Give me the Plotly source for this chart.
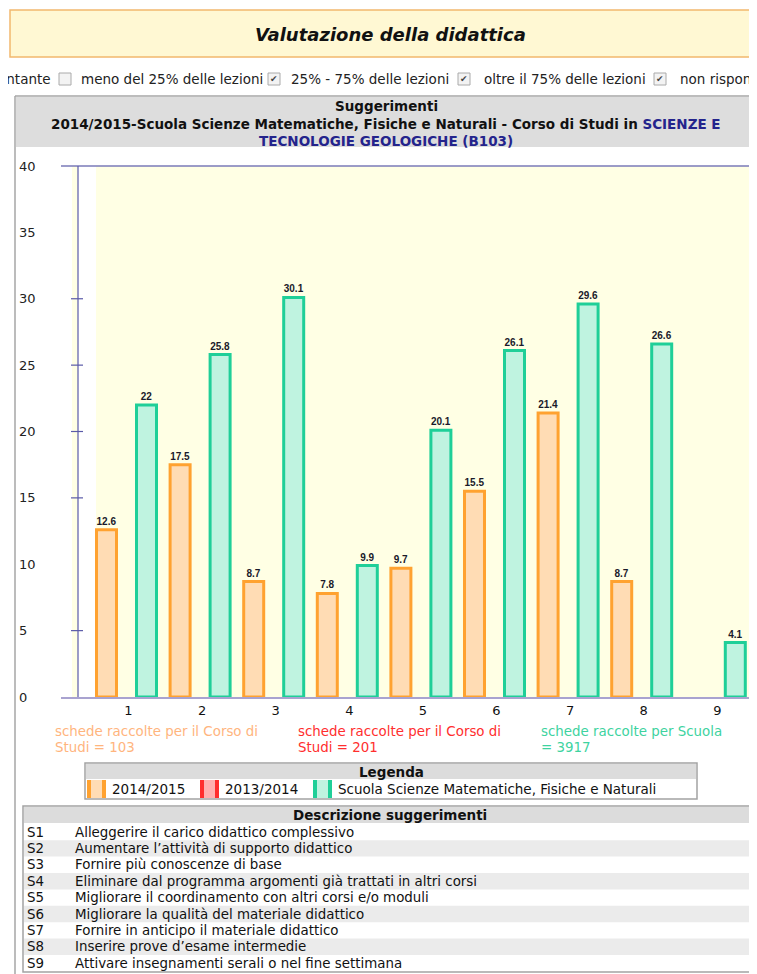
import plotly.graph_objects as go

OFF = 8                      # browser body margin
W, H = 757, 974

# ---------------- data ----------------
categories = ["1", "2", "3", "4", "5", "6", "7", "8", "9"]
values_1415 = [12.6, 17.5, 8.7, 7.8, 9.7, 15.5, 21.4, 8.7, None]
values_scuola = [22.0, 25.8, 30.1, 9.9, 20.1, 26.1, 29.6, 26.6, 4.1]
series_names = ["2014/2015", "2013/2014", "Scuola Scienze Matematiche, Fisiche e Naturali"]
y_ticks = [0, 5, 10, 15, 20, 25, 30, 35, 40]
axis_marks = [5, 15, 20, 25, 30]
counts_text = [["schede raccolte per il Corso di", "Studi = 103"],
               ["schede raccolte per il Corso di", "Studi = 201"],
               ["schede raccolte per Scuola", "= 3917"]]
codes = ["S1", "S2", "S3", "S4", "S5", "S6", "S7", "S8", "S9"]
descriptions = [
    "Alleggerire il carico didattico complessivo",
    "Aumentare l\u2019attivit\u00e0 di supporto didattico",
    "Fornire pi\u00f9 conoscenze di base",
    "Eliminare dal programma argomenti gi\u00e0 trattati in altri corsi",
    "Migliorare il coordinamento con altri corsi e/o moduli",
    "Migliorare la qualit\u00e0 del materiale didattico",
    "Fornire in anticipo il materiale didattico",
    "Inserire prove d\u2019esame intermedie",
    "Attivare insegnamenti serali o nel fine settimana",
]
filter_labels = ["meno del 25% delle lezioni", "25% - 75% delle lezioni",
                 "oltre il 75% delle lezioni", "non rispond"]
filter_checked = [False, True, True, True]

FONT = "DejaVu Sans"
ORANGE, ORANGE_L = "#ffa230", "#ffdcb4"
RED, RED_L = "#ff2e2e", "#ffb0b0"
TEAL, TEAL_L = "#1fcf98", "#bff3e0"


def X(p):
    return (p - OFF) / W


def Y(p):
    return 1 - (p - OFF) / H


def fmt(v):
    return "" if v is None else f"{v:g}"


shapes = []
annotations = []


def rect(x0, y0, x1, y1, fill=None, line=None, lw=1):
    shapes.append(dict(type="rect", xref="paper", yref="paper",
                       x0=X(x0), x1=X(x1), y0=Y(y1), y1=Y(y0),
                       fillcolor=fill or "rgba(0,0,0,0)",
                       line=dict(color=line or "rgba(0,0,0,0)", width=lw if line else 0),
                       layer="below"))


def hline(x0, x1, y, color, lw=1):
    shapes.append(dict(type="line", xref="paper", yref="paper",
                       x0=X(x0), x1=X(x1), y0=Y(y), y1=Y(y),
                       line=dict(color=color, width=lw)))


def vline(x, y0, y1, color, lw=1):
    shapes.append(dict(type="line", xref="paper", yref="paper",
                       x0=X(x), x1=X(x), y0=Y(y0), y1=Y(y1),
                       line=dict(color=color, width=lw)))


def text(x, y, s, size=13.5, color="#111", anchor="left", bold=False, italic=False, family=FONT):
    if bold:
        s = f"<b>{s}</b>"
    if italic:
        s = f"<i>{s}</i>"
    annotations.append(dict(x=X(x), y=Y(y), xref="paper", yref="paper", text=s,
                            showarrow=False, xanchor=anchor, yanchor="middle",
                            font=dict(family=family, size=size, color=color), borderpad=0))


# ---------------- page chrome ----------------
# title box
rect(10, 10, 790, 57, fill="#fff8d3", line="#f2b86e", lw=1.5)
text(390, 35, "Valutazione della didattica", size=18, anchor="center", bold=True, italic=True)

# filter line
text(52, 79, "entante", size=13.5, color="#222", anchor="right")
box_x = [59, 268, 458, 654]
text_x = [80, 290, 483, 679]
for bx, tx, lab, chk in zip(box_x, text_x, filter_labels, filter_checked):
    rect(bx, 73, bx + 12, 85, fill="#f3f3f3", line="#aaaaaa", lw=1)
    if chk:
        text(bx + 6, 79, "\u2714", size=9, color="#444", anchor="center")
    text(tx, 79, lab, size=13.5, color="#222")

# chart panel
vline(15, 96, 990, "#a6a6a6", 1.5)
hline(15, 770, 96, "#a6a6a6", 1.5)
rect(16, 97, 770, 147, fill="#dddddd")
text(386, 106, "Suggerimenti", size=13.5, anchor="center", bold=True)
text(386, 124, "2014/2015-Scuola Scienze Matematiche, Fisiche e Naturali - Corso di Studi in "
     "<span style='color:#24248c'>SCIENZE E</span>", size=13.5, anchor="center", bold=True)
text(386, 141, "<span style='color:#24248c'>TECNOLOGIE GEOLOGICHE (B103)</span>",
     size=13.5, anchor="center", bold=True)

# plot background
rect(72, 166, 78, 697, fill="#ffffe4")
rect(96, 166, 770, 697, fill="#ffffe4")

# axis lines
hline(61, 770, 166, "#7a7ab8", 1.5)
hline(61, 770, 698, "#8c84c0", 1.5)
shapes.append(dict(type="line", xref="paper", yref="y", x0=X(78), x1=X(78), y0=0, y1=40,
                   line=dict(color="#5a5aa8", width=1.2)))
for v in axis_marks:
    shapes.append(dict(type="line", xref="paper", yref="y", x0=X(71), x1=X(83), y0=v, y1=v,
                       line=dict(color="#5a5aa8", width=1.2)))

# counts
count_colors = ["#ffb57e", RED, "#3ed3a0"]
for cx, lines, c in zip([54, 297, 540], counts_text, count_colors):
    for k, ln in enumerate(lines):
        text(cx, 731 + 16 * k, ln, size=13.4, color=c)

# legend
rect(85, 763, 697, 799, fill="#ffffff", line="#a3a3a3", lw=1.5)
rect(86, 764, 696, 779, fill="#dcdcdc")
text(391, 772, "Legenda", size=13.5, anchor="center", bold=True)
sw_x = [87, 200, 313]
lab_x = [111, 224, 337]
sw_cols = [(ORANGE, ORANGE_L), (RED, RED_L), (TEAL, TEAL_L)]
for sx, lx, name, (c1, c2) in zip(sw_x, lab_x, series_names, sw_cols):
    rect(sx, 780, sx + 19, 798, fill=c1)
    rect(sx + 4, 780, sx + 15, 798, fill=c2)
    text(lx, 789, name, size=13.5, color="#111")

# description table
rect(23, 806, 790, 972, fill="#ffffff", line="#a3a3a3", lw=1.5)
rect(24, 807, 790, 823, fill="#dcdcdc")
text(390, 815, "Descrizione suggerimenti", size=13.5, anchor="center", bold=True)
for i, (c, d) in enumerate(zip(codes, descriptions)):
    cy = 832 + 16.4 * i
    if i % 2 == 1:
        rect(24, cy - 8.2, 790, cy + 8.2, fill="#ebebeb")
    text(26, cy, c, size=13.4, color="#111")
    text(74, cy, d, size=13.4, color="#111")

# ---------------- bars ----------------
STEP, C0 = 73.6, 126.5          # pixel spacing of categories, centre of the first one
BW = 20 / STEP
X_LEFT, X_RIGHT = 89.7, 752.1
fig = go.Figure()
fig.add_trace(go.Bar(
    x=categories, y=values_1415, name=series_names[0],
    width=BW, offset=-30 / STEP,
    marker=dict(color=ORANGE_L, line=dict(color=ORANGE, width=3)),
    text=[fmt(v) for v in values_1415], textposition="outside", constraintext="none",
    textfont=dict(family="Liberation Sans", size=10, color="#1a1a2a"),
    cliponaxis=False, hoverinfo="x+y"))
fig.add_trace(go.Bar(
    x=categories, y=values_scuola, name=series_names[2],
    width=BW, offset=10 / STEP,
    marker=dict(color=TEAL_L, line=dict(color=TEAL, width=3)),
    text=[fmt(v) for v in values_scuola], textposition="outside", constraintext="none",
    textfont=dict(family="Liberation Sans", size=10, color="#1a1a2a"),
    cliponaxis=False, hoverinfo="x+y"))
fig.update_traces(texttemplate="<b>%{text}</b>")

fig.update_layout(
    template="none",
    width=W, height=H, margin=dict(l=0, r=0, t=0, b=0, pad=0, autoexpand=False),
    paper_bgcolor="#ffffff", plot_bgcolor="rgba(0,0,0,0)",
    barmode="overlay", showlegend=False,
    font=dict(family=FONT, color="#111"),
    xaxis=dict(domain=[X(X_LEFT), min(1.0, X(X_RIGHT))], type="category",
               range=[(X_LEFT - C0) / STEP, (X_RIGHT - C0) / STEP], automargin=False,
               showgrid=False, zeroline=False, showline=False, ticks="",
               ticklabelstandoff=4,
               tickfont=dict(family=FONT, size=13, color="#111"), ticklabelshift=2),
    yaxis=dict(domain=[Y(697), Y(166)], range=[0, 40], tickvals=y_ticks, automargin=False,
               anchor="free", position=X(15), ticklabelposition="inside",
               ticklabeloverflow="allow",
               showgrid=False, zeroline=False, showline=False, ticks="",
               tickfont=dict(family=FONT, size=13, color="#222")),
    shapes=shapes, annotations=annotations,
)

fig.write_html("out.html")
